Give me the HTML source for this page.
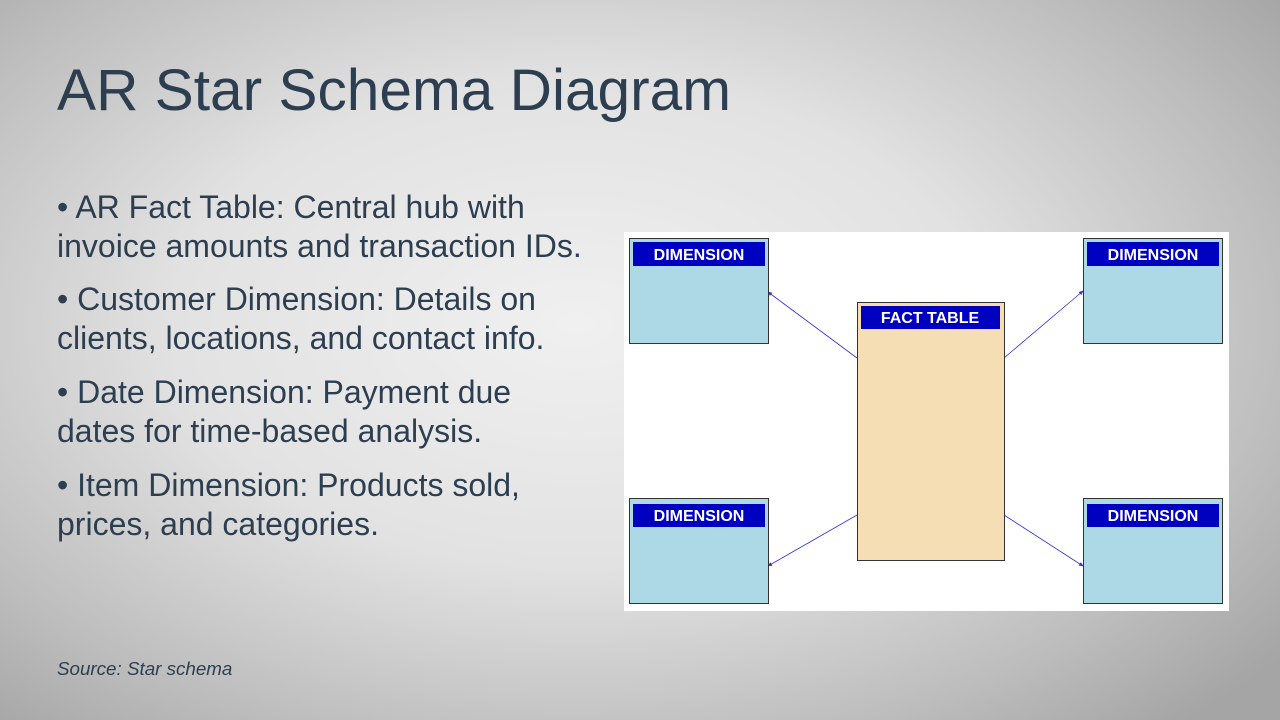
<!DOCTYPE html>
<html><head><style>
body{margin:0;width:1280px;height:720px;overflow:hidden;font-family:"Liberation Sans",sans-serif;
background:radial-gradient(ellipse 70% 75% at 45% 45%,#f0f0f0 0%,#e2e2e2 45%,#bdbdbd 80%,#a5a5a5 100%);position:relative;color:#2c3e50}
h1{position:absolute;left:57px;top:56px;margin:0;font-size:58.6px;font-weight:normal;line-height:70px}
.b{position:absolute;left:57px;font-size:32px;line-height:38.5px;width:532px}
.src{position:absolute;left:57px;top:658px;font-size:18.8px;font-style:italic}
</style></head><body>
<h1>AR Star Schema Diagram</h1>
<div class="b" style="top:188px">• AR Fact Table: Central hub with invoice amounts and transaction IDs.</div>
<div class="b" style="top:280px">• Customer Dimension: Details on clients, locations, and contact info.</div>
<div class="b" style="top:373px">• Date Dimension: Payment due dates for time-based analysis.</div>
<div class="b" style="top:466px">• Item Dimension: Products sold, prices, and categories.</div>
<div class="src">Source: Star schema</div>
<svg style="position:absolute;left:624px;top:232px" width="605" height="379" viewBox="624 232 605 379" font-family="Liberation Sans,sans-serif">
<defs><marker id="a" markerWidth="6" markerHeight="6" refX="5" refY="3" orient="auto"><path d="M0,0.5L6,3L0,5.5z" fill="#3333cc"/></marker></defs>
<rect x="624" y="232" width="605" height="379" fill="#fff"/>
<g stroke="#3333dd" stroke-width="0.8" marker-end="url(#a)">
<line x1="857" y1="358" x2="768" y2="292"/>
<line x1="1004" y1="358" x2="1083" y2="291"/>
<line x1="857" y1="515" x2="768" y2="566"/>
<line x1="1004" y1="515" x2="1083" y2="566"/>
</g>
<g stroke="#333" stroke-width="1">
<rect x="629.5" y="238.5" width="139" height="105" fill="#add8e6"/>
<rect x="1083.5" y="238.5" width="139" height="105" fill="#add8e6"/>
<rect x="629.5" y="498.5" width="139" height="105" fill="#add8e6"/>
<rect x="1083.5" y="498.5" width="139" height="105" fill="#add8e6"/>
<rect x="857.5" y="302.5" width="147" height="258" fill="#f5deb3"/>
</g>
<g fill="#0000c0">
<rect x="633" y="242" width="132" height="24"/><rect x="1087" y="242" width="132" height="24"/>
<rect x="633" y="504" width="132" height="23"/><rect x="1087" y="504" width="132" height="23"/>
<rect x="861" y="306" width="139" height="23"/>
</g>
<g fill="#fff" font-weight="bold" font-size="16" text-anchor="middle">
<text x="699" y="260">DIMENSION</text><text x="1153" y="260">DIMENSION</text>
<text x="699" y="521">DIMENSION</text><text x="1153" y="521">DIMENSION</text>
<text x="930" y="323">FACT TABLE</text>
</g>
</svg>
</body></html>
